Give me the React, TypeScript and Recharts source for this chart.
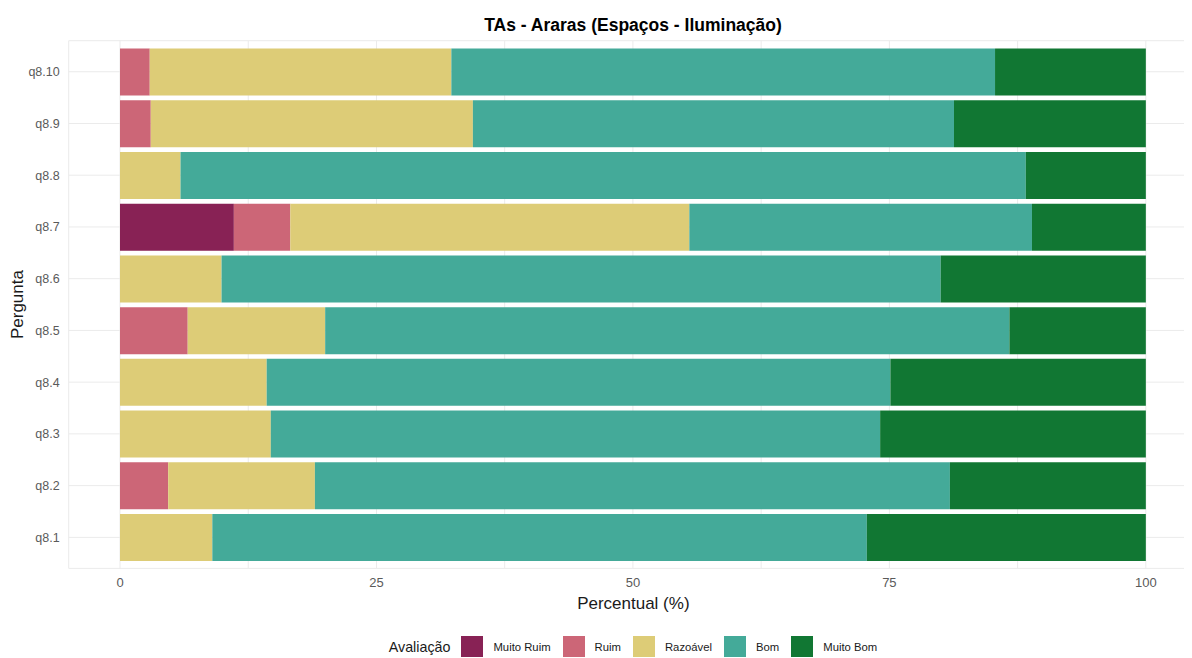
import { Bar, BarChart, CartesianGrid, Label, Legend, XAxis, YAxis } from "recharts"

const perguntas = ["q8.10", "q8.9", "q8.8", "q8.7", "q8.6", "q8.5", "q8.4", "q8.3", "q8.2", "q8.1"]
const muitoRuim = [0, 0, 0, 11.1, 0, 0, 0, 0, 0, 0]
const ruim = [2.9, 3.0, 0, 5.5, 0, 6.6, 0, 0, 4.7, 0]
const razoavel = [29.4, 31.4, 5.9, 38.9, 9.9, 13.4, 14.3, 14.7, 14.3, 9.0]
const bom = [53.0, 46.9, 82.4, 33.4, 70.1, 66.7, 60.8, 59.4, 61.9, 63.8]
const muitoBom = [14.7, 18.7, 11.7, 11.1, 20.0, 13.3, 24.9, 25.9, 19.1, 27.2]

const xTicks = [0, 12.5, 25, 37.5, 50, 62.5, 75, 87.5, 100]

const series = [
    { name: "Muito Ruim", color: "#882255", values: muitoRuim },
    { name: "Ruim", color: "#CC6677", values: ruim },
    { name: "Razoável", color: "#DDCC77", values: razoavel },
    { name: "Bom", color: "#44AA99", values: bom },
    { name: "Muito Bom", color: "#117733", values: muitoBom },
]

const data = perguntas.map((p, i) => {
    const row: Record<string, string | number> = { pergunta: p }
    series.forEach((s) => {
        row[s.name] = s.values[i]
    })
    return row
})

const font = "'Liberation Sans', Arial, sans-serif"

const renderLegend = () => (
    <div style={{ display: "flex", alignItems: "center", justifyContent: "center", fontFamily: font }}>
        <span style={{ fontSize: 14.3, color: "#1a1a1a", marginRight: 11 }}>Avaliação</span>
        {series.map((s, i) => (
            <span key={s.name} style={{ display: "flex", alignItems: "center", marginRight: i < series.length - 1 ? 12 : 0 }}>
                <span style={{ width: 22, height: 21, background: s.color, marginRight: 10 }} />
                <span style={{ fontSize: 11.3, color: "#1a1a1a" }}>{s.name}</span>
            </span>
        ))}
    </div>
)

export default function App() {
    return (
        <div
            style={{
                position: "relative",
                width: 1192,
                height: 658,
                margin: "-8px 0 0 -8px",
                overflow: "hidden",
                fontFamily: font,
                background: "#fff",
            }}
        >
            <div
                style={{
                    position: "absolute",
                    top: 14,
                    left: 233,
                    width: 800,
                    textAlign: "center",
                    fontSize: 17.5,
                    fontWeight: "bold",
                    color: "#000",
                    lineHeight: "22px",
                }}
            >
                TAs - Araras (Espaços - Iluminação)
            </div>
            <BarChart
                width={1192}
                height={658}
                data={data}
                layout="vertical"
                barCategoryGap="5%"
                margin={{ top: 40.7, right: 0, bottom: 59.6, left: 0 }}
            >
                <CartesianGrid stroke="#EBEBEB" strokeWidth={1} />
                <XAxis
                    type="number"
                    domain={[-5, 104.5]}
                    allowDataOverflow
                    ticks={xTicks}
                    interval={0}
                    height={30}
                    tickLine={false}
                    axisLine={false}
                    tickMargin={3.6}
                    tick={{ fill: "#5a5a5a", fontSize: 13, fontFamily: font }}
                    tickFormatter={(v) => (v % 25 === 0 ? String(v) : "")}
                >
                    <Label
                        content={(props: any) => {
                            const vb = props.viewBox
                            return (
                                <text
                                    x={vb.x + vb.width / 2 + 3}
                                    y={vb.y + 35}
                                    textAnchor="middle"
                                    dominantBaseline="central"
                                    fontSize={17}
                                    fill="#1a1a1a"
                                    fontFamily={font}
                                >
                                    Percentual (%)
                                </text>
                            )
                        }}
                    />
                </XAxis>
                <YAxis
                    type="category"
                    dataKey="pergunta"
                    width={68.7}
                    padding={{ top: 5.17, bottom: 5.17 }}
                    tickLine={false}
                    axisLine={false}
                    tickMargin={3}
                    tick={{ fill: "#5a5a5a", fontSize: 12.5, fontFamily: font }}
                >
                    <Label
                        content={(props: any) => {
                            const vb = props.viewBox
                            const x = vb.x + 18
                            const y = vb.y + vb.height / 2
                            return (
                                <text
                                    x={x}
                                    y={y}
                                    transform={`rotate(-90, ${x}, ${y})`}
                                    textAnchor="middle"
                                    dominantBaseline="central"
                                    fontSize={17}
                                    fill="#1a1a1a"
                                    fontFamily={font}
                                >
                                    Pergunta
                                </text>
                            )
                        }}
                    />
                </YAxis>
                <Legend
                    layout="horizontal"
                    verticalAlign="middle"
                    align="center"
                    content={renderLegend}
                    wrapperStyle={{ top: 636, left: 233, width: 800, height: 22 }}
                />
                {series.map((s) => (
                    <Bar key={s.name} dataKey={s.name} stackId="a" fill={s.color} isAnimationActive={false} />
                ))}
            </BarChart>
        </div>
    )
}
